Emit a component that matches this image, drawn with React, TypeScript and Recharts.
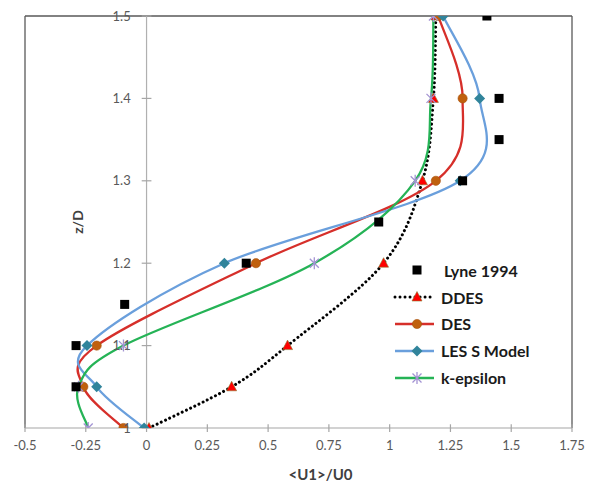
import { LineChart, Line, XAxis, YAxis, ReferenceLine, Legend, Label } from "recharts";

// heights z/D where the models were sampled
const zModel = [1.0, 1.05, 1.1, 1.2, 1.3, 1.4, 1.5];
const uDDES = [0.01, 0.35, 0.58, 0.975, 1.135, 1.18, 1.19];
const uDES = [-0.095, -0.26, -0.205, 0.45, 1.19, 1.3, 1.2];
const uLES = [-0.01, -0.205, -0.245, 0.32, 1.29, 1.37, 1.22];
const uKEps = [-0.24, -0.28, -0.095, 0.69, 1.105, 1.17, 1.18];

// experiment
const zLyne = [1.05, 1.1, 1.15, 1.2, 1.25, 1.3, 1.35, 1.4, 1.5];
const uLyne = [-0.29, -0.29, -0.09, 0.41, 0.955, 1.3, 1.45, 1.45, 1.4];

const xTicks = [-0.5, -0.25, 0, 0.25, 0.5, 0.75, 1, 1.25, 1.5, 1.75];
const yTicks = [1, 1.1, 1.2, 1.3, 1.4, 1.5];

const toPoints = (u: number[], z: number[]) => u.map((v, i) => ({ u: v, z: z[i] }));

// Excel-like smoothed line (Catmull-Rom through the points)
function excelSmooth(context: any) {
  let pts: number[][] = [];
  return {
    areaStart() {},
    areaEnd() {},
    lineStart() {
      pts = [];
    },
    point(x: number, y: number) {
      pts.push([+x, +y]);
    },
    lineEnd() {
      const n = pts.length;
      if (!n) return;
      context.moveTo(pts[0][0], pts[0][1]);
      for (let i = 0; i < n - 1; i++) {
        const p0 = pts[Math.max(i - 1, 0)];
        const p1 = pts[i];
        const p2 = pts[i + 1];
        const p3 = pts[Math.min(i + 2, n - 1)];
        context.bezierCurveTo(
          p1[0] + (p2[0] - p0[0]) / 6,
          p1[1] + (p2[1] - p0[1]) / 6,
          p2[0] - (p3[0] - p1[0]) / 6,
          p2[1] - (p3[1] - p1[1]) / 6,
          p2[0],
          p2[1]
        );
      }
    },
  };
}

const C = {
  des: "#d62f2a",
  desDot: "#c0600e",
  les: "#6a9fdc",
  lesDot: "#31849b",
  keps: "#25b356",
  kepsDot: "#a393d3",
  tri: "#ff0000",
};

function marker(kind: string, cx: number, cy: number, key?: string) {
  if (cx == null || cy == null) return <g key={key} />;
  switch (kind) {
    case "square":
      return <rect key={key} x={cx - 4.5} y={cy - 4.5} width={9} height={9} fill="#000" />;
    case "tri":
      return (
        <path key={key} d={`M${cx},${cy - 5.5}L${cx + 5},${cy + 4}L${cx - 5},${cy + 4}Z`} fill={C.tri} stroke="#8a7a30" strokeWidth={0.6} />
      );
    case "circle":
      return <circle key={key} cx={cx} cy={cy} r={4.6} fill={C.desDot} stroke="#a8520c" strokeWidth={0.6} />;
    case "diamond":
      return <path key={key} d={`M${cx},${cy - 5.5}L${cx + 5.5},${cy}L${cx},${cy + 5.5}L${cx - 5.5},${cy}Z`} fill={C.lesDot} />;
    default:
      return (
        <path
          key={key}
          d={`M${cx - 4.5},${cy - 4.5}L${cx + 4.5},${cy + 4.5}M${cx - 4.5},${cy + 4.5}L${cx + 4.5},${cy - 4.5}M${cx},${cy - 6}L${cx},${cy + 6}`}
          stroke={C.kepsDot}
          strokeWidth={1.3}
          fill="none"
        />
      );
  }
}

const dotOf = (kind: string) => (p: any) => marker(kind, p.cx, p.cy, `${kind}-${p.index}`);

const legendRows = [
  { name: "Lyne 1994", kind: "square", stroke: "none", dash: undefined as string | undefined },
  { name: "DDES", kind: "tri", stroke: "#000", dash: "0.01 5" },
  { name: "DES", kind: "circle", stroke: C.des, dash: undefined },
  { name: "LES S Model", kind: "diamond", stroke: C.les, dash: undefined },
  { name: "k-epsilon", kind: "star", stroke: C.keps, dash: undefined },
];

function LegendBox() {
  return (
    <div>
      {legendRows.map((r) => (
        <div key={r.name} style={{ display: "flex", alignItems: "center", height: 26.8 }}>
          <svg width={48} height={20} style={{ display: "block" }}>
            {r.stroke !== "none" && (
              <line
                x1={2}
                x2={41}
                y1={10}
                y2={10}
                stroke={r.stroke}
                strokeWidth={r.dash ? 3 : 2.3}
                strokeDasharray={r.dash}
                strokeLinecap={r.dash ? "round" : "butt"}
              />
            )}
            {marker(r.kind, 24, 10)}
          </svg>
          <span
            style={{
              fontWeight: 700,
              fontSize: 16,
              color: "#1a1a1a",
              marginLeft: r.kind === "square" ? 3 : 0,
              whiteSpace: "nowrap",
            }}
          >
            {r.name}
          </span>
        </div>
      ))}
    </div>
  );
}

const tickText = { fill: "#595959", fontSize: 13 };

export default function App() {
  return (
    <div style={{ position: "absolute", left: 0, top: 0, fontFamily: "Lato, 'Open Sans', sans-serif", background: "#fff" }}>
      <LineChart width={593} height={486} margin={{ top: 16, right: 21, bottom: 28, left: 25 }}>
        <XAxis
          type="number"
          dataKey="u"
          domain={[-0.5, 1.75]}
          ticks={xTicks}
          allowDataOverflow
          interval={0}
          tick={tickText}
          tickSize={4}
          tickMargin={9}
          height={30}
          axisLine={{ stroke: "#a6a6a6", strokeWidth: 1.2 }}
          tickLine={{ stroke: "#a6a6a6", strokeWidth: 1.2 }}
        >
          <Label value="<U1>/U0" position="bottom" offset={11} dx={22} fill="#404040" fontSize={15} fontWeight={700} />
        </XAxis>
        <YAxis type="number" dataKey="z" domain={[1, 1.5]} allowDataOverflow hide />

        {/* plot frame */}
        <ReferenceLine x={-0.5} stroke="#595959" strokeWidth={1.3} ifOverflow="visible" />
        <ReferenceLine x={1.75} stroke="#595959" strokeWidth={1.3} ifOverflow="visible" />
        <ReferenceLine y={1.5} stroke="#595959" strokeWidth={1.3} ifOverflow="visible" />

        {/* vertical axis drawn at u = 0 */}
        <ReferenceLine x={0} stroke="#b0b0b0" strokeWidth={1.2} />
        {yTicks.map((t) => (
          <ReferenceLine
            key={`yt-${t}`}
            segment={[
              { x: -0.02, y: t },
              { x: 0.02, y: t },
            ]}
            stroke="#a6a6a6"
            strokeWidth={1.2}
            ifOverflow="visible"
            label={{ value: String(t), position: "left", offset: 11, ...tickText }}
          />
        ))}
        {xTicks.map((t) => (
          <ReferenceLine
            key={`xt-${t}`}
            segment={[
              { x: t, y: 1 },
              { x: t, y: 1.0045 },
            ]}
            stroke="#a6a6a6"
            strokeWidth={1.2}
            ifOverflow="visible"
          />
        ))}
        <ReferenceLine
          x={-0.282}
          stroke="none"
          label={{ value: "z/D", angle: -90, position: "center", fill: "#404040", fontSize: 14, fontWeight: 700 }}
        />

        <Line
          data={toPoints(uDDES, zModel)}
          dataKey="z"
          type={excelSmooth as any}
          stroke="#000"
          strokeWidth={3}
          strokeDasharray="0.01 4.6"
          strokeLinecap="round"
          dot={dotOf("tri")}
          activeDot={false}
          isAnimationActive={false}
        />
        <Line
          data={toPoints(uDES, zModel)}
          dataKey="z"
          type={excelSmooth as any}
          stroke={C.des}
          strokeWidth={2.3}
          dot={dotOf("circle")}
          activeDot={false}
          isAnimationActive={false}
        />
        <Line
          data={toPoints(uLES, zModel)}
          dataKey="z"
          type={excelSmooth as any}
          stroke={C.les}
          strokeWidth={2.3}
          dot={dotOf("diamond")}
          activeDot={false}
          isAnimationActive={false}
        />
        <Line
          data={toPoints(uKEps, zModel)}
          dataKey="z"
          type={excelSmooth as any}
          stroke={C.keps}
          strokeWidth={2.3}
          dot={dotOf("star")}
          activeDot={false}
          isAnimationActive={false}
        />
        <Line
          data={toPoints(uLyne, zLyne)}
          dataKey="z"
          stroke="none"
          dot={dotOf("square")}
          activeDot={false}
          isAnimationActive={false}
        />

        <Legend
          layout="vertical"
          align="center"
          verticalAlign="middle"
          content={() => <LegendBox />}
          wrapperStyle={{ left: 393, top: 257, width: 160, height: 134 }}
        />
      </LineChart>
    </div>
  );
}
